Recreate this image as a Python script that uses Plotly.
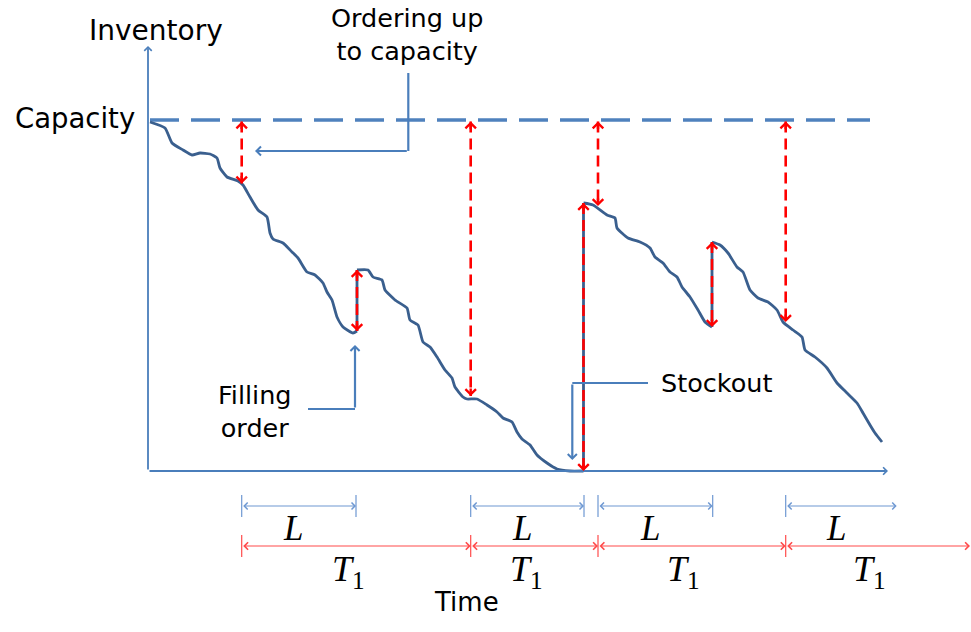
import plotly.graph_objects as go

# ---------------- data (time units on x, inventory units on y) ----------------
capacity = 351
capacity_span = [2, 722]

curve_t = [2, 17, 24, 35, 44, 52, 62, 69, 72, 79, 90, 95, 102, 110, 119, 122, 125, 135, 144, 150,
           159, 167, 175, 179, 184, 189, 195, 205, 209,
           209, 220, 225, 234, 237, 247, 259, 262, 270, 275, 282, 289, 297, 304, 307, 315, 319, 329,
           339, 349, 355, 364, 369, 374, 382, 389, 399, 409, 422, 435.5,
           435.5, 445, 459, 467, 469, 480, 492, 502, 507, 515, 522, 529, 534, 542, 550, 557, 564,
           564, 572, 580, 589, 595, 602, 610, 620, 629, 635, 645, 654, 657, 667, 679, 689, 699, 709,
           715, 722, 727, 734]
curve_inv = [349, 343, 328, 321, 316, 318, 317, 313, 303, 294, 290, 286, 274, 261, 254, 238, 232, 228, 219, 213,
             199, 196, 188, 179, 171, 154, 144, 138, 140,
             201, 201, 194, 191, 181, 171, 163, 151, 146, 129, 124, 114, 101, 93, 84, 74, 72, 72,
             66, 59, 53, 49, 39, 32, 26, 16, 8, 2, 0, 0,
             268, 266, 256, 253, 243, 233, 229, 223, 214, 208, 199, 194, 184, 174, 161, 149, 144,
             229, 226, 218, 204, 199, 181, 173, 169, 161, 149, 141, 134, 121, 114, 103, 88, 78, 68,
             58, 46, 38, 29]

review_t = [93.7, 322.7, 450.0, 637.7]        # orders placed (up to capacity)
review_inv = [287.5, 75, 265, 149]            # inventory position when ordering
delivery_t = [209, 435.5, 564]                # orders filled
delivery_before = [140, 0, 144]
delivery_after = [201, 268, 229]
lead_end_t = [208, 436, 564.7, 748.7]         # end of lead time L
cycle_end_t = [322.7, 450.0, 637.7, 822]      # end of review period T1

axis_x_end = 740
axis_y_end = 425
level_L = -35
level_T = -75
tick_half = 11

# ---------------- styles ----------------
RED = "#FF0000"
AXIS = "#4A7EBB"
CAP = "#4F81BD"
CURVE = "#3A5F8E"
LBLUE = "#6E98D2"
LRED = "#FF4B4B"
SANS = "DejaVu Sans"
SERIF = "Liberation Serif"

fig = go.Figure()

# capacity line
fig.add_trace(go.Scatter(x=capacity_span, y=[capacity, capacity], mode="lines",
                         line=dict(color=CAP, width=3.5, dash="29px,12px"), hoverinfo="skip"))

# inventory curve: smooth pieces between deliveries, straight vertical jumps
segments, cur = [], [[], []]
for i, (t, v) in enumerate(zip(curve_t, curve_inv)):
    if i > 0 and t == curve_t[i - 1]:
        segments.append(cur)
        cur = [[], []]
    cur[0].append(t)
    cur[1].append(v)
segments.append(cur)
for st, sv in segments:
    fig.add_trace(go.Scatter(x=st, y=sv, mode="lines",
                             line=dict(color=CURVE, width=2.8, shape="spline", smoothing=0.5),
                             hoverinfo="skip"))
jx, jy = [], []
for t, a, b in zip(delivery_t, delivery_before, delivery_after):
    jx += [t, t, None]
    jy += [a, b, None]
fig.add_trace(go.Scatter(x=jx, y=jy, mode="lines", line=dict(color=CURVE, width=2.8), hoverinfo="skip"))

# red dashed order quantities
rx, ry = [], []
for t, v in zip(review_t, review_inv):
    rx += [t, t, None]
    ry += [capacity - 1.5, v, None]
for t, a, b in zip(delivery_t, delivery_before, delivery_after):
    rx += [t, t, None]
    ry += [b, a, None]
fig.add_trace(go.Scatter(x=rx, y=ry, mode="lines",
                         line=dict(color=RED, width=2.6, dash="11px,6px"), hoverinfo="skip"))

# interval ticks
bx, by = [], []
for t in review_t + lead_end_t[:3]:
    bx += [t, t, None]
    by += [level_L + tick_half, level_L - tick_half, None]
fig.add_trace(go.Scatter(x=bx, y=by, mode="lines", line=dict(color=LBLUE, width=1.2), hoverinfo="skip"))
tx, ty = [], []
for t in review_t:
    tx += [t, t, None]
    ty += [level_T + tick_half, level_T - tick_half, None]
fig.add_trace(go.Scatter(x=tx, y=ty, mode="lines", line=dict(color=LRED, width=1.2), hoverinfo="skip"))

# callout pointer polylines
order_ptr = dict(t=[260.3, 260.3, 107], v=[398, 320, 320])
fill_ptr = dict(t=[160, 207, 207], v=[62, 62, 126])
stock_ptr = dict(t=[500, 424.3, 424.3], v=[88, 88, 11])
for p in (order_ptr, fill_ptr, stock_ptr):
    fig.add_trace(go.Scatter(x=p["t"][:2], y=p["v"][:2], mode="lines",
                             line=dict(color=AXIS, width=2.2), hoverinfo="skip"))

ann = []


def arrow(x0, y0, x1, y1, color, width, size, both=False):
    ann.append(dict(x=x1, y=y1, ax=x0, ay=y0, xref="x", yref="y", axref="x", ayref="y",
                    text="", showarrow=True, arrowhead=4, arrowsize=size, arrowwidth=width,
                    arrowcolor=color, standoff=0, startstandoff=0, font=dict(size=1),
                    arrowside="end+start" if both else "end", startarrowhead=4, startarrowsize=size))


def head(x, y, up):
    ann.append(dict(x=x, y=y, xref="x", yref="y", ax=0, ay=9 if up else -9,
                    text="", showarrow=True, arrowhead=4, arrowsize=0.85, arrowwidth=2.4,
                    arrowcolor=RED, standoff=0, font=dict(size=1)))


# axes
arrow(0, 0, axis_x_end, 0, AXIS, 1.8, 0.8)
arrow(0, 0, 0, axis_y_end, AXIS, 1.8, 0.8)

# red heads
for t, v in zip(review_t, review_inv):
    head(t, capacity - 1.5, True)
    head(t, v, False)
for t, a, b in zip(delivery_t, delivery_before, delivery_after):
    head(t, b, True)
    head(t, a, False)

# intervals
for s, e in zip(review_t, lead_end_t):
    arrow(s, level_L, e, level_L, LBLUE, 1.1, 1.2, both=True)
for s, e in zip(review_t, cycle_end_t):
    arrow(s, level_T, e, level_T, LRED, 1.2, 1.2, both=True)

# pointer heads
for p in (order_ptr, fill_ptr, stock_ptr):
    arrow(p["t"][1], p["v"][1], p["t"][2], p["v"][2], AXIS, 2.2, 0.8)


def label(x, y, text, size, family=SANS, style="normal"):
    ann.append(dict(x=x, y=y, xref="x", yref="y", text=text, showarrow=False,
                    xanchor="center", yanchor="middle",
                    font=dict(family=family, size=size, color="black", style=style)))


label(7.5, 441, "Inventory", 28)
label(-73, 353, "Capacity", 27.5)
label(259, 437, "Ordering up<br>to capacity", 25.5)
label(107, 60, "Filling<br>order", 25.5)
label(568, 88, "Stockout", 25.5)
label(318, -131, "Time", 26)

for s, e in zip(review_t, lead_end_t):
    label(s + 0.45 * (e - s), -57, "<i>L</i>", 35, SERIF)
for s, e in zip(review_t, cycle_end_t):
    label((s + e) / 2 - 8, -100, "<i>T</i><sub>1</sub>", 36, SERIF)

fig.update_layout(
    width=971, height=632, margin=dict(l=0, r=0, t=0, b=0),
    paper_bgcolor="white", plot_bgcolor="white", showlegend=False,
    xaxis=dict(range=[-148, 823], visible=False, fixedrange=True),
    yaxis=dict(range=[-161, 471], visible=False, fixedrange=True),
    annotations=ann,
)

fig.write_html("out.html", config=dict(displayModeBar=False),
               post_script="document.body.style.margin='0';document.body.style.overflow='hidden';")
